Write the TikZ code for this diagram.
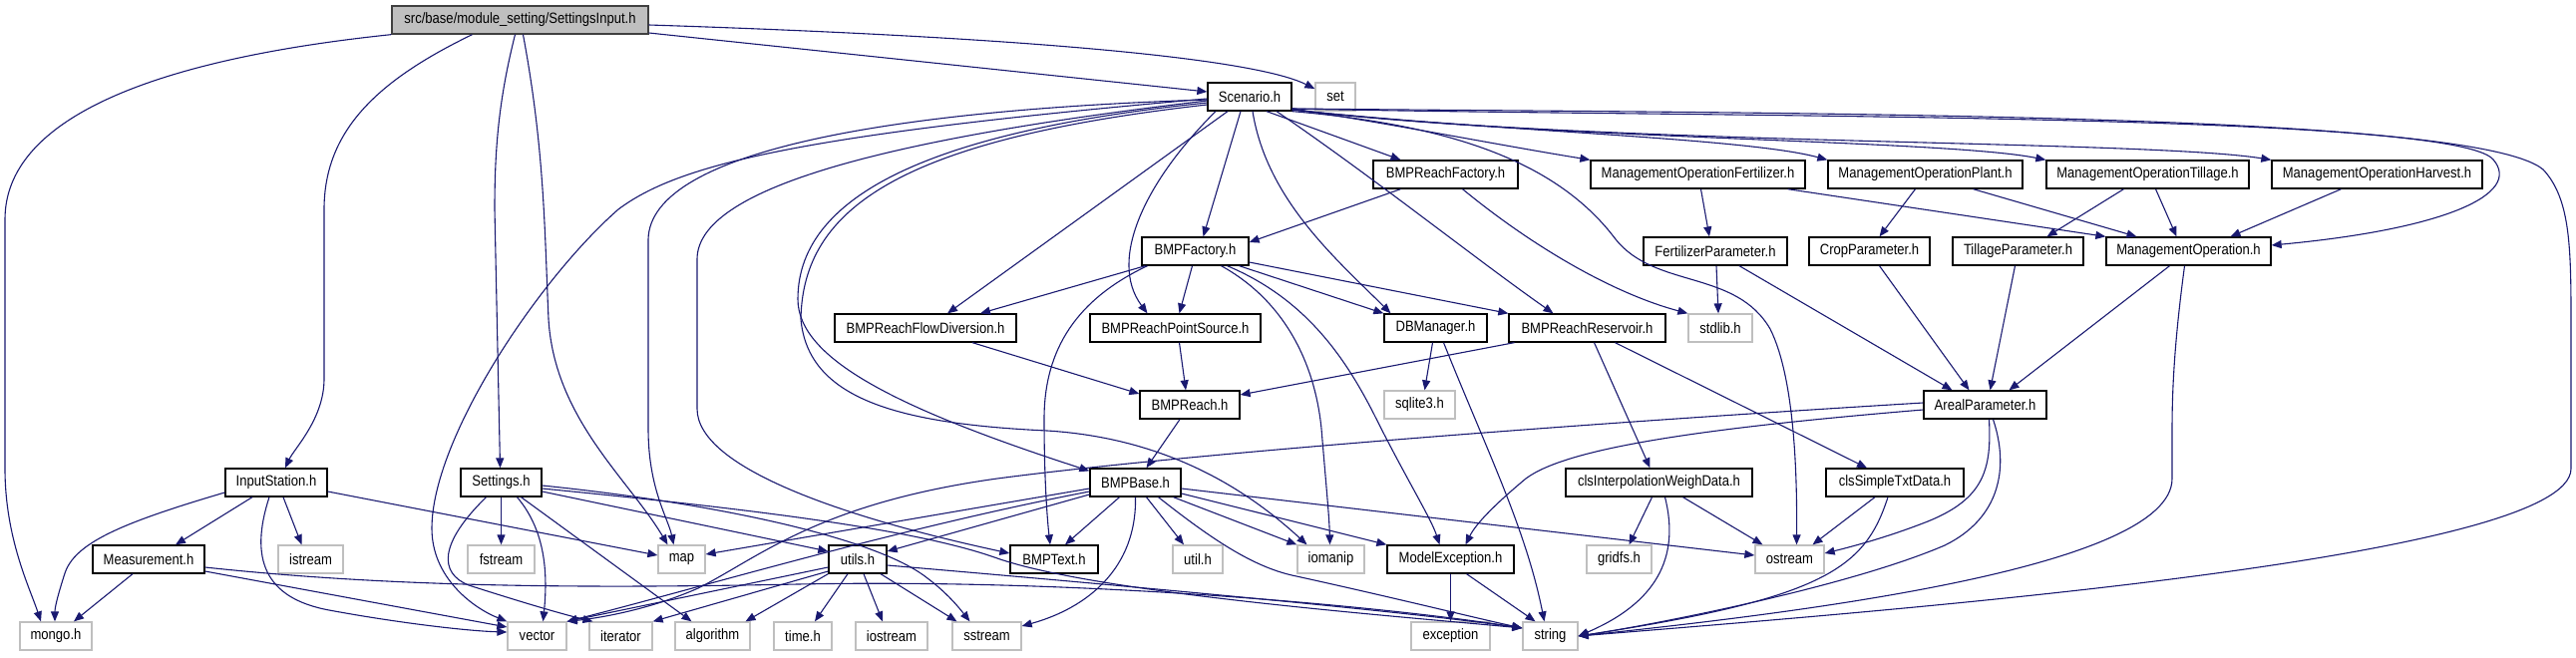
\documentclass[tikz,border=0pt]{standalone}
\usepackage{fontspec}
\setmainfont{Liberation Sans}[FakeStretch=0.87]
\usetikzlibrary{arrows.meta}
\definecolor{edgecol}{HTML}{191970}
\definecolor{sysgray}{HTML}{BFBFBF}
\definecolor{rootfill}{HTML}{BFBFBF}
\definecolor{rootdraw}{HTML}{404040}
\tikzset{
  nd/.style={draw=black, line width=1.3pt, fill=white, minimum height=28pt, inner sep=0pt, font=\fontsize{15}{18}\selectfont},
  sys/.style={nd, draw=sysgray},
  rootnd/.style={nd, fill=rootfill, draw=rootdraw},
  e/.style={draw=edgecol, line width=1.1pt, -{Triangle[length=10pt,width=8pt]}, fill=none}
}
\begin{document}
\begin{tikzpicture}[x=1pt,y=-1pt]
\useasboundingbox (0,0) rectangle (2583,659);
% row 0
\node[rootnd, minimum width=257pt] (root) at (521.5,20) {src/base/module\_setting/SettingsInput.h};
% row 1
\node[nd, minimum width=84pt] (scen) at (1253,97) {Scenario.h};
\node[sys, minimum width=40pt] (set) at (1339,97) {set};
% row 2
\node[nd, minimum width=145pt] (brf) at (1449.5,175) {BMPReachFactory.h};
\node[nd, minimum width=215pt] (mof) at (1702.5,175) {ManagementOperationFertilizer.h};
\node[nd, minimum width=195pt] (mop) at (1930.5,175) {ManagementOperationPlant.h};
\node[nd, minimum width=203pt] (mot) at (2153.5,175) {ManagementOperationTillage.h};
\node[nd, minimum width=211pt] (moh) at (2383.5,175) {ManagementOperationHarvest.h};
% row 3
\node[nd, minimum width=107pt] (bf) at (1198.5,252) {BMPFactory.h};
\node[nd, minimum width=144pt] (fp) at (1720,252) {FertilizerParameter.h};
\node[nd, minimum width=121pt] (cp) at (1874.5,252) {CropParameter.h};
\node[nd, minimum width=131pt] (tp) at (2023.5,252) {TillageParameter.h};
\node[nd, minimum width=165pt] (mo) at (2194.5,252) {ManagementOperation.h};
% row 4
\node[nd, minimum width=182pt] (brfd) at (928,329) {BMPReachFlowDiversion.h};
\node[nd, minimum width=171pt] (brps) at (1178.5,329) {BMPReachPointSource.h};
\node[nd, minimum width=103pt] (dbm) at (1439.5,329) {DBManager.h};
\node[nd, minimum width=157pt] (brr) at (1591.5,329) {BMPReachReservoir.h};
\node[sys, minimum width=64pt] (stdlib) at (1725,329) {stdlib.h};
% row 5
\node[nd, minimum width=100pt] (br) at (1193,406) {BMPReach.h};
\node[sys, minimum width=71pt] (sqlite) at (1423.5,406) {sqlite3.h};
\node[nd, minimum width=123pt] (ap) at (1990.5,406) {ArealParameter.h};
% row 6
\node[nd, minimum width=102pt] (inst) at (277,484) {InputStation.h};
\node[nd, minimum width=81pt] (sett) at (502.5,484) {Settings.h};
\node[nd, minimum width=91pt] (bb) at (1138.5,484) {BMPBase.h};
\node[nd, minimum width=187pt] (cid) at (1663.5,484) {clsInterpolationWeighData.h};
\node[nd, minimum width=138pt] (cst) at (1900,484) {clsSimpleTxtData.h};
% row 7
\node[nd, minimum width=112pt] (meas) at (149,561) {Measurement.h};
\node[sys, minimum width=65pt] (istream) at (311.5,561) {istream};
\node[sys, minimum width=67pt] (fstream) at (502.5,561) {fstream};
\node[sys, minimum width=47pt] (map) at (683.5,561) {map};
\node[nd, minimum width=58pt] (utils) at (860,561) {utils.h};
\node[nd, minimum width=88pt] (bt) at (1057,561) {BMPText.h};
\node[sys, minimum width=50pt] (util) at (1201,561) {util.h};
\node[sys, minimum width=67pt] (iomanip) at (1334.5,561) {iomanip};
\node[nd, minimum width=127pt] (me) at (1454.5,561) {ModelException.h};
\node[sys, minimum width=65pt] (gridfs) at (1623.5,561) {gridfs.h};
\node[sys, minimum width=69pt] (ostream) at (1794.5,561) {ostream};
% row 8
\node[sys, minimum width=72pt] (mongo) at (56,638) {mongo.h};
\node[sys, minimum width=59pt] (vector) at (538.5,638) {vector};
\node[sys, minimum width=63pt] (iterator) at (622.5,638) {iterator};
\node[sys, minimum width=75pt] (algo) at (714.5,638) {algorithm};
\node[sys, minimum width=58pt] (time) at (805,638) {time.h};
\node[sys, minimum width=72pt] (iostream) at (894,638) {iostream};
\node[sys, minimum width=69pt] (sstream) at (989.5,638) {sstream};
\node[sys, minimum width=79pt] (exception) at (1454.5,638) {exception};
\node[sys, minimum width=55pt] (string) at (1554.5,638) {string};

% ---- edges from root
\draw[e] (root.south west) .. controls (150,60) and (5,120) .. (5,220) -- (5,470) .. controls (5,540) and (30,590) .. ([xshift=-15pt]mongo.north);
\draw[e] ([xshift=-48pt]root.south) .. controls (380,80) and (325,130) .. (325,210) -- (325,380) .. controls (325,420) and (295,450) .. ([xshift=9pt]inst.north);
\draw[e] ([xshift=-5pt]root.south) .. controls (500,100) and (496,150) .. (496,210) -- ([xshift=-1pt]sett.north);
\draw[e] ([xshift=3pt]root.south) .. controls (546,150) and (546,230) .. (550,320) .. controls (556,420) and (630,480) .. ([xshift=-14pt]map.north);
\draw[e] ([yshift=-13pt]root.east) -- ([yshift=5pt]scen.west);
\draw[e] ([yshift=-5pt]root.east) .. controls (1050,38) and (1260,60) .. ([yshift=8pt]set.west);

% ---- edges from Scenario
\draw[e] ([yshift=-2pt]scen.west) .. controls (800,135) and (680,165) .. (620,210) .. controls (540,280) and (433,440) .. (433,530) .. controls (433,580) and (475,610) .. (vector.north west);
\draw[e] ([yshift=-3pt]scen.west) .. controls (900,110) and (652,150) .. (650,240) -- (650,430) .. controls (650,490) and (670,520) .. ([xshift=-8pt]map.north);
\draw[e] ([yshift=-4pt]scen.west) .. controls (880,140) and (699,190) .. (699,260) -- (699,410) .. controls (699,470) and (850,520) .. ([yshift=6pt]bt.west);
\draw[e] ([yshift=-6pt]scen.west) .. controls (950,130) and (800,190) .. (800,300) .. controls (800,360) and (900,410) .. ([yshift=-3pt]bb.north west);
\draw[e] ([yshift=-8pt]scen.west) .. controls (900,140) and (805,210) .. (803,320) .. controls (810,400) and (900,425) .. (1050,432) .. controls (1180,440) and (1260,500) .. ([xshift=-24pt]iomanip.north);
\draw[e] ([xshift=-22pt]scen.south) -- ([xshift=22pt]brfd.north);
\draw[e] ([xshift=-9pt]scen.south) -- ([xshift=8pt]bf.north);
\draw[e] ([xshift=-34pt]scen.south) .. controls (1150,180) and (1110,260) .. ([xshift=-28pt]brps.north);
\draw[e] ([xshift=3pt]scen.south) .. controls (1270,200) and (1340,260) .. ([xshift=-45pt]dbm.north);
\draw[e] ([xshift=17pt]scen.south) -- ([xshift=-45pt]brf.north);
\draw[e] ([xshift=27pt]scen.south) .. controls (1380,180) and (1480,260) .. ([xshift=-34pt]brr.north);
\draw[e] (scen.south east) .. controls (1450,125) and (1560,160) .. (1620,240) .. controls (1660,290) and (1740,270) .. (1775,330) .. controls (1800,380) and (1802,480) .. ([xshift=7pt]ostream.north);
\draw[e] ([yshift=-12pt]scen.east) .. controls (1400,125) and (1500,145) .. (mof.north west);
\draw[e] ([yshift=-13pt]scen.east) .. controls (1500,132) and (1750,138) .. (mop.north west);
\draw[e] ([yshift=-13pt]scen.east) .. controls (1550,140) and (1950,140) .. (mot.north west);
\draw[e] ([yshift=-13pt]scen.east) .. controls (1600,146) and (2150,140) .. (moh.north west);
\draw[e] ([yshift=-12pt]scen.east) .. controls (1700,118) and (2460,112) .. (2500,160) .. controls (2530,195) and (2450,230) .. ([yshift=6pt]mo.east);
\draw[e] ([yshift=-12pt]scen.east) .. controls (1800,114) and (2480,112) .. (2550,170) .. controls (2578,200) and (2578,250) .. (2578,330) -- (2578,470) .. controls (2578,560) and (1900,612) .. (string.east);

% ---- BMPFactory, BMPReachFactory
\draw[e] ([xshift=-50pt]bf.south) -- ([xshift=55pt]brfd.north);
\draw[e] ([xshift=-3pt]bf.south) -- ([xshift=4pt]brps.north);
\draw[e] ([xshift=-48pt]bf.south) .. controls (1080,300) and (1047,350) .. (1047,420) .. controls (1047,480) and (1050,520) .. ([xshift=-4pt]bt.north);
\draw[e] ([xshift=26pt]bf.south) .. controls (1285,300) and (1318,360) .. (1325,430) .. controls (1330,490) and (1333,520) .. ([xshift=-1pt]iomanip.north);
\draw[e] ([xshift=32pt]bf.south) .. controls (1310,300) and (1350,360) .. (1380,420) .. controls (1410,480) and (1435,520) .. ([xshift=-11pt]me.north);
\draw[e] ([xshift=44pt]bf.south) -- (dbm.north west);
\draw[e] ([yshift=-11pt]bf.east) -- (brr.north west);
\draw[e] ([xshift=-45pt]brf.south) -- ([yshift=9pt]bf.east);
\draw[e] ([xshift=17pt]brf.south) .. controls (1540,250) and (1620,295) .. (stdlib.north west);

% ---- management operations
\draw[e] ([xshift=3pt]mof.south) -- ([xshift=-6pt]fp.north);
\draw[e] ([xshift=90pt]mof.south) -- (mo.north west);
\draw[e] ([xshift=-10pt]mop.south) -- ([xshift=10pt]cp.north);
\draw[e] ([xshift=48pt]mop.south) -- ([xshift=-52pt]mo.north);
\draw[e] ([xshift=-24pt]mot.south) -- ([xshift=29pt]tp.north);
\draw[e] ([xshift=8pt]mot.south) -- ([xshift=-12pt]mo.north);
\draw[e] ([xshift=-36pt]moh.south) -- ([xshift=42pt]mo.north);
\draw[e] ([xshift=1pt]fp.south) -- ([xshift=-2pt]stdlib.north);
\draw[e] ([xshift=24pt]fp.south) -- ([xshift=-33pt]ap.north);
\draw[e] ([xshift=10pt]cp.south) -- ([xshift=-16pt]ap.north);
\draw[e] ([xshift=-3pt]tp.south) -- ([xshift=5pt]ap.north);
\draw[e] ([xshift=-19pt]mo.south) -- ([xshift=24pt]ap.north);
\draw[e] ([xshift=-4pt]mo.south) .. controls (2182,330) and (2178,380) .. (2178,430) -- (2178,480) .. controls (2178,570) and (1800,615) .. (string.east);

% ---- reach nodes
\draw[e] ([xshift=47pt]brfd.south) -- ([yshift=11pt]br.west);
\draw[e] ([xshift=4pt]brps.south) -- ([xshift=-4pt]br.north);
\draw[e] ([xshift=-73pt]brr.south) -- ([yshift=10pt]br.east);
\draw[e] ([xshift=7pt]brr.south) -- ([xshift=-9pt]cid.north);
\draw[e] ([xshift=28pt]brr.south) -- ([xshift=-28pt]cst.north);
\draw[e] ([xshift=-3pt]dbm.south) -- ([xshift=5pt]sqlite.north);
\draw[e] ([xshift=8pt]dbm.south) .. controls (1490,450) and (1530,530) .. ([xshift=-6pt]string.north);
\draw[e] ([xshift=-10pt]br.south) -- ([xshift=11pt]bb.north);

% ---- ArealParameter
\draw[e] ([yshift=2pt]ap.west) .. controls (1500,430) and (1150,460) .. (1000,480) .. controls (820,505) and (760,560) .. (700,590) .. controls (650,612) and (600,620) .. (vector.north east);
\draw[e] ([yshift=-5pt]ap.west) .. controls (1700,430) and (1570,450) .. (1530,480) .. controls (1500,505) and (1480,525) .. ([xshift=15pt]me.north);
\draw[e] ([xshift=4pt]ap.south) .. controls (1997,470) and (1990,500) .. (1933,523) .. controls (1890,540) and (1850,550) .. ([yshift=6pt]ostream.east);
\draw[e] ([xshift=8pt]ap.south) .. controls (2015,470) and (2005,520) .. (1950,547) .. controls (1850,590) and (1650,628) .. (string.east);

% ---- data classes
\draw[e] ([xshift=-7pt]cid.south) -- ([xshift=10pt]gridfs.north);
\draw[e] ([xshift=24pt]cid.south) -- ([xshift=-27pt]ostream.north);
\draw[e] ([xshift=6pt]cid.south) .. controls (1685,560) and (1660,605) .. (string.east);
\draw[e] ([xshift=-20pt]cst.south) -- ([xshift=23pt]ostream.north);
\draw[e] ([xshift=-7pt]cst.south) .. controls (1870,570) and (1830,600) .. (string.east);

% ---- BMPBase
\draw[e] ([yshift=-6pt]bb.west) -- ([yshift=5pt]map.east);
\draw[e] ([yshift=-9pt]bb.west) .. controls (900,530) and (700,590) .. (vector.north east);
\draw[e] ([yshift=-12pt]bb.west) -- ([yshift=8pt]utils.east);
\draw[e] ([xshift=-16pt]bb.south) -- ([xshift=11pt]bt.north);
\draw[e] (bb.south) .. controls (1140,570) and (1090,610) .. ([yshift=10pt]sstream.east);
\draw[e] ([xshift=11pt]bb.south) -- ([xshift=-14pt]util.north);
\draw[e] ([xshift=38pt]bb.south) -- (iomanip.north west);
\draw[e] ([yshift=-11pt]bb.east) -- (me.north west);
\draw[e] ([yshift=-6pt]bb.east) -- ([yshift=4pt]ostream.west);
\draw[e] ([xshift=23pt]bb.south) .. controls (1220,545) and (1260,570) .. (1300,578) .. controls (1400,600) and (1480,620) .. ([yshift=8pt]string.west);

% ---- utils
\draw[e] ([yshift=-8pt]utils.west) -- (vector.north east);
\draw[e] ([yshift=-12pt]utils.west) -- (iterator.north east);
\draw[e] (utils.south west) -- ([xshift=33pt]algo.north);
\draw[e] ([xshift=-10pt]utils.south) -- ([xshift=12pt]time.north);
\draw[e] ([xshift=6pt]utils.south) -- ([xshift=-9pt]iostream.north);
\draw[e] ([xshift=23pt]utils.south) -- ([xshift=-30pt]sstream.north);
\draw[e] ([yshift=-6pt]utils.east) .. controls (1100,585) and (1400,612) .. ([yshift=8pt]string.west);

% ---- Settings
\draw[e] (sett.south) -- (fstream.north);
\draw[e] ([xshift=16pt]sett.south) .. controls (545,530) and (550,570) .. ([xshift=6pt]vector.north);
\draw[e] ([xshift=-15pt]sett.south) .. controls (440,545) and (440,575) .. (470,587) .. controls (520,603) and (560,615) .. ([xshift=-28pt]iterator.north);
\draw[e] ([xshift=20pt]sett.south) -- ([xshift=-21pt]algo.north);
\draw[e] ([yshift=-9pt]sett.east) -- ([yshift=8pt]utils.west);
\draw[e] ([yshift=-3pt]sett.east) .. controls (720,505) and (880,540) .. (930,580) .. controls (950,595) and (962,610) .. ([xshift=-17pt]sstream.north);
\draw[e] ([yshift=-6pt]sett.east) .. controls (800,515) and (930,535) .. (1000,560) .. controls (1100,595) and (1400,618) .. ([yshift=8pt]string.west);

% ---- InputStation, Measurement
\draw[e] ([xshift=-24pt]inst.south) -- ([xshift=27pt]meas.north);
\draw[e] ([yshift=-10pt]inst.west) .. controls (120,525) and (75,545) .. (65,575) .. controls (57,600) and (55,610) .. ([xshift=-1pt]mongo.north);
\draw[e] ([xshift=-7pt]inst.south) .. controls (250,560) and (265,600) .. (330,612) .. controls (400,625) and (470,633) .. ([yshift=4pt]vector.west);
\draw[e] ([xshift=7pt]inst.south) -- ([xshift=-9pt]istream.north);
\draw[e] ([yshift=-9pt]inst.east) -- ([yshift=4pt]map.west);
\draw[e] ([xshift=-16pt]meas.south) -- ([xshift=18pt]mongo.north);
\draw[e] ([yshift=-12pt]meas.east) -- ([yshift=9pt]vector.west);
\draw[e] ([yshift=-8pt]meas.east) .. controls (400,590) and (600,590) .. (800,586) .. controls (1100,580) and (1400,610) .. ([yshift=8pt]string.west);

% ---- ModelException
\draw[e] (me.south) -- (exception.north);
\draw[e] ([xshift=16pt]me.south) -- ([xshift=-15pt]string.north);
\end{tikzpicture}
\end{document}
